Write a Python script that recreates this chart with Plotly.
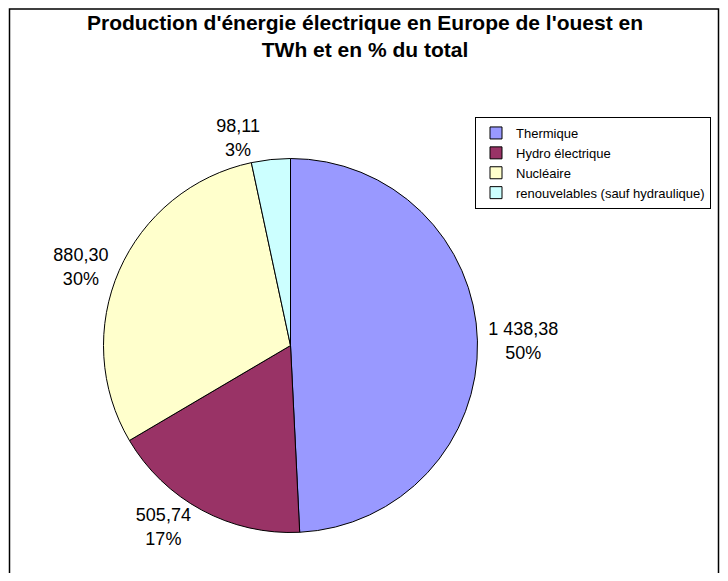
import plotly.graph_objects as go

# Data
categories = ["Thermique", "Hydro électrique", "Nucléaire", "renouvelables (sauf hydraulique)"]
values_twh = [1438.38, 505.74, 880.30, 98.11]
percent_labels = ["50%", "17%", "30%", "3%"]
colors = ["#9999FF", "#993366", "#FFFFCC", "#CCFFFF"]

# the page body adds an 8px margin, so the figure fills the rest of the window
W, H = 712, 565
FONT = "Liberation Sans, Arial, sans-serif"

# pie geometry (figure pixels)
cx, cy, r = 282.5, 337.5, 187

fig = go.Figure(go.Pie(
    labels=categories,
    values=values_twh,
    text=percent_labels,
    texttemplate="%{value:,.2f}<br>%{text}",
    textposition="outside",
    textfont=dict(family=FONT, size=18, color="black"),
    marker=dict(colors=colors, line=dict(color="black", width=1)),
    sort=False,
    direction="clockwise",
    rotation=0,
    hoverinfo="skip",
    domain=dict(x=[(cx - r) / W, (cx + r) / W],
                y=[(H - cy - r) / H, (H - cy + r) / H]),
))

fig.update_layout(
    width=W, height=H,
    margin=dict(l=0, r=0, t=0, b=0),
    paper_bgcolor="white",
    plot_bgcolor="white",
    separators=", ",
    font=dict(family=FONT, color="black"),
    title=dict(
        text="<b>Production d'énergie électrique en Europe de l'ouest en<br>TWh et en % du total</b>",
        font=dict(family=FONT, size=21, color="black"),
        x=(365 - 8) / W, xanchor="center", xref="paper",
        y=1 - 22 / H, yanchor="top", yref="container",
    ),
    showlegend=True,
    legend=dict(
        x=467 / W, xanchor="left",
        y=1 - 109 / H, yanchor="top",
        bordercolor="black", borderwidth=1,
        bgcolor="white",
        font=dict(family=FONT, size=13, color="black"),
        itemclick=False, itemdoubleclick=False,
    ),
    shapes=[dict(
        type="rect", xref="paper", yref="paper",
        x0=1.5 / W, x1=(W - 1.5) / W, y0=-0.05, y1=1 - 1 / H,
        line=dict(color="black", width=1.5),
        fillcolor="rgba(0,0,0,0)", layer="above",
    )],
)

fig.write_html("out.html")
